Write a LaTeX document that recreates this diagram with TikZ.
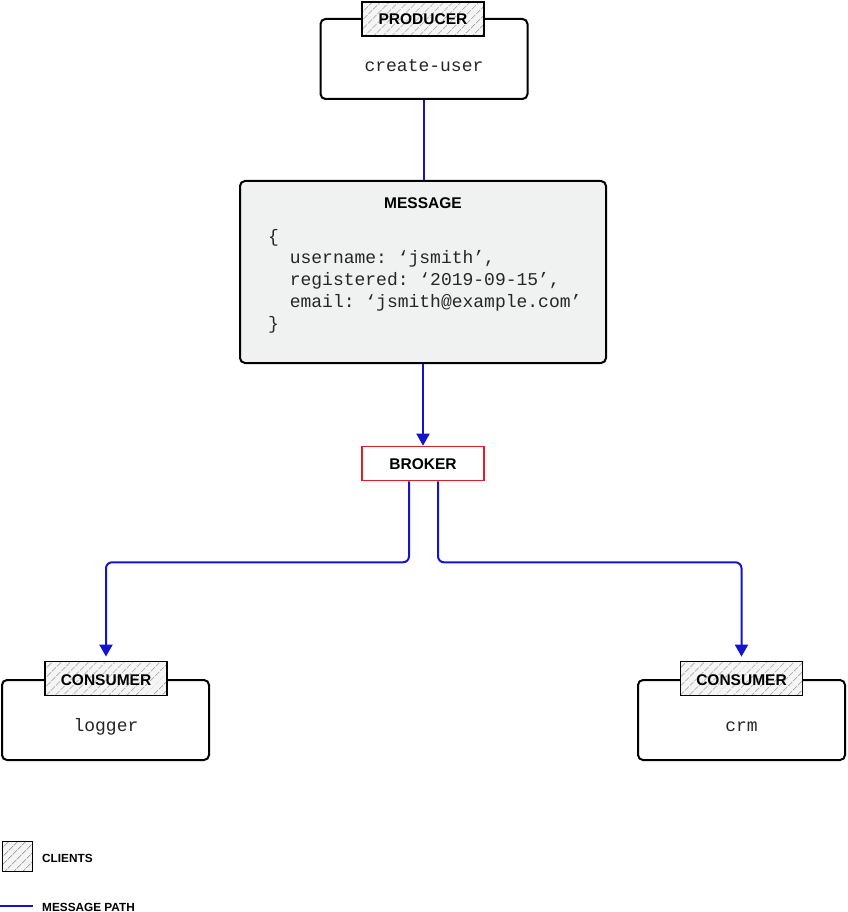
\documentclass[tikz,border=0pt]{standalone}
\usepackage{fontspec}
\setmainfont{Liberation Sans}
\setmonofont{Liberation Mono}
\usetikzlibrary{arrows.meta, positioning, patterns.meta}
\definecolor{msgblue}{RGB}{20,20,205}
\definecolor{brkred}{RGB}{225,30,35}
\definecolor{msgfill}{RGB}{240,241,241}

\begin{document}
\begin{tikzpicture}[x=1pt, y=-1pt,
    client/.style={draw, line width=2pt, rounded corners=5pt, minimum width=207pt, minimum height=80pt},
    tab/.style={draw, line width=1.8pt, minimum width=122pt, minimum height=34pt, preaction={fill=gray!8},
        pattern={Lines[angle=45, distance=6.5pt, line width=0.9pt]}, pattern color=gray!70},
    lbl/.style={font=\bfseries\fontsize{15.5}{15.5}\selectfont, anchor=base},
    code/.style={font=\ttfamily\fontsize{18}{21.7}\selectfont, text=black!85, inner sep=0pt},
    msgpath/.style={draw=msgblue, line width=2pt},
    flow/.style={-{Triangle[width=13pt, length=12pt]}}]
    \useasboundingbox (0,0) rectangle (847,912);

    % producer
    \node[client] (prod) at (424,59) {};
    \node[tab] (prodtab) at (423,19) {};
    \node[lbl] (prodlbl) at (423,25) {PRODUCER};
    \node[code, anchor=base] (prodname) at (424,72) {create-user};

    % message
    \node[draw, line width=2pt, rounded corners=5pt, fill=msgfill, minimum width=366pt, minimum height=182pt] (msg) at (423,272) {};
    \node[lbl] (msglbl) at (423,208) {MESSAGE};
    \node[code, anchor=north west, align=left] (body) at (268,229) {\{\\
        \phantom{xx}username: ‘jsmith’,\\
        \phantom{xx}registered: ‘2019-09-15’,\\
        \phantom{xx}email: ‘jsmith@example.com’\\
        \}};

    % broker
    \node[draw=brkred, line width=1.6pt, minimum width=122pt, minimum height=34pt] (brk) at (423,463.5) {};
    \node[lbl] (brklbl) at (423,469) {BROKER};

    % consumers
    \node[client] (log) at (105.5,720) {};
    \node[tab] (logtab) at (106,678.5) {};
    \node[lbl] (loglbl) at (106,685) {CONSUMER};
    \node[code, anchor=base] (logname) at (106,731) {logger};

    \node[client] (crm) at (741.5,720) {};
    \node[tab] (crmtab) at (741.5,678.5) {};
    \node[lbl] (crmlbl) at (741.5,685) {CONSUMER};
    \node[code, anchor=base] (crmname) at (741.5,731) {crm};

    % message path
    \draw[msgpath] (prod.south) -- (prod.south |- msg.north);
    \draw[msgpath, flow] (msg.south) -- (brk.north);
    \draw[msgpath, flow, rounded corners=6pt, shorten >=4pt] ([xshift=-14pt]brk.south) -- ++(0,81) -| (logtab.north);
    \draw[msgpath, flow, rounded corners=6pt, shorten >=4pt] ([xshift=15pt]brk.south) -- ++(0,81) -| (crmtab.north);

    % legend
    \node[tab, minimum width=30pt, minimum height=30pt] (lgclient) at (17.5,856.5) {};
    \node[font=\bfseries\fontsize{11.8}{11.8}\selectfont, anchor=base west, inner sep=0pt] (lgclientlbl) at (42,862) {CLIENTS};
    \coordinate (lga) at (0,906);
    \coordinate (lgb) at (33,906);
    \draw[msgpath] (lga) -- (lgb);
    \node[font=\bfseries\fontsize{11.8}{11.8}\selectfont, anchor=base west, inner sep=0pt] (lgpathlbl) at (42,911) {MESSAGE PATH};
\end{tikzpicture}
\end{document}
